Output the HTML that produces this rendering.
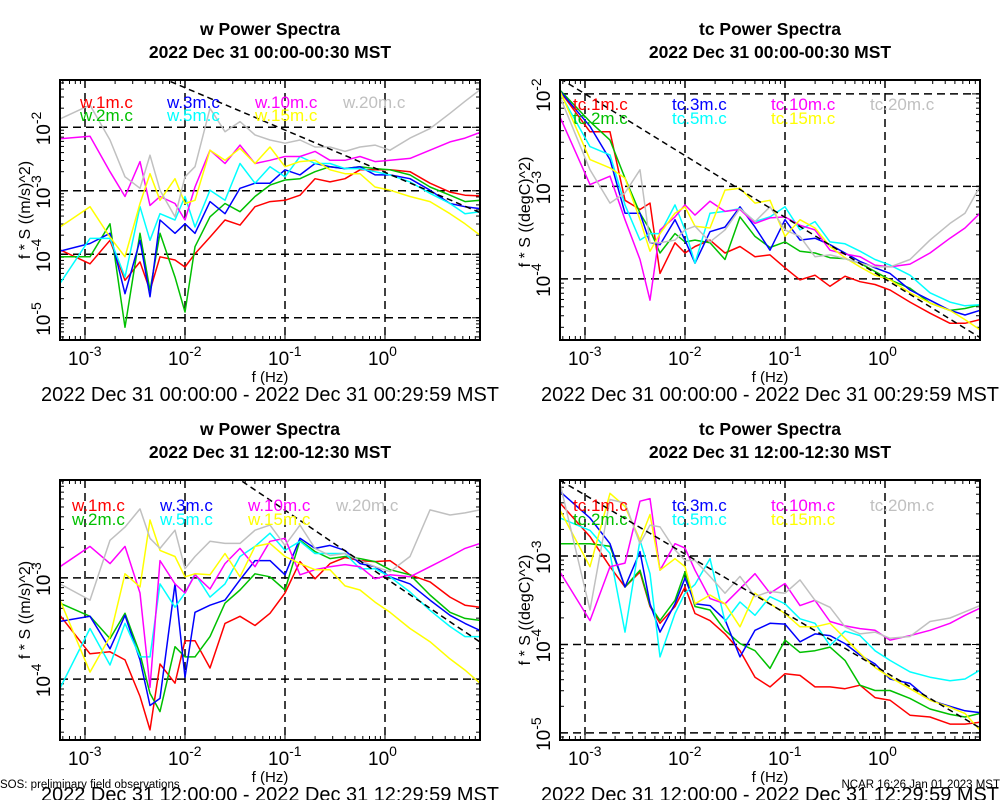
<!DOCTYPE html>
<html><head><meta charset="utf-8"><style>
body{margin:0;background:#fff;}
svg{display:block;font-family:"Liberation Sans",Arial,sans-serif;}
</style></head><body>
<svg id="chart" width="1000" height="800" viewBox="0 0 1000 800" xmlns="http://www.w3.org/2000/svg">
<rect width="1000" height="800" fill="#fff"/>
</svg>
<script>
// frequencies as log10(Hz)
const freqExp = [-3.25,-2.95,-2.75,-2.6,-2.45,-2.35,-2.25,-2.1,-2.0,-1.9,-1.75,-1.6,-1.45,-1.3,-1.15,-1.0,-0.85,-0.7,-0.55,-0.4,-0.25,-0.1,0.05,0.25,0.45,0.65,0.8,0.95];
const seriesNamesW = ["w.1m.c","w.2m.c","w.3m.c","w.5m.c","w.10m.c","w.15m.c","w.20m.c"];
const seriesNamesTc = ["tc.1m.c","tc.2m.c","tc.3m.c","tc.5m.c","tc.10m.c","tc.15m.c","tc.20m.c"];
const seriesColors = ["#ff0000","#00c000","#0000ff","#00ffff","#ff00ff","#ffff00","#c0c0c0"];
// panel 1: w 00:00 (log10 of f*S)
const p1_1m = [-3.93,-4.15,-3.78,-4.41,-4.12,-4.57,-4.04,-4.09,-4.2,-3.99,-3.73,-3.46,-3.54,-3.25,-3.17,-3.15,-3.07,-2.81,-2.86,-2.81,-2.67,-2.67,-2.67,-2.7,-2.88,-3.02,-3.07,-3.08];
const p1_2m = [-4.04,-4.04,-3.52,-5.15,-3.67,-4.57,-3.67,-4.36,-4.91,-3.88,-3.41,-3.2,-3.33,-3.09,-2.91,-2.83,-2.81,-2.7,-2.62,-2.65,-2.62,-2.65,-2.67,-2.75,-2.94,-3.07,-3.17,-3.15];
const p1_3m = [-3.95,-3.83,-3.67,-4.62,-3.78,-4.67,-3.46,-3.67,-3.52,-3.67,-3.17,-3.36,-2.96,-2.88,-2.88,-2.67,-2.75,-2.57,-2.62,-2.65,-2.62,-2.75,-2.75,-2.81,-2.99,-3.2,-3.25,-3.28];
const p1_5m = [-4.46,-3.75,-3.75,-4.36,-3.25,-3.78,-3.36,-3.46,-3.09,-3.57,-2.99,-3.15,-2.57,-2.88,-2.62,-2.78,-2.46,-2.57,-2.57,-2.65,-2.65,-2.7,-2.75,-2.86,-3.04,-3.2,-3.36,-3.33];
const p1_10m = [-2.18,-2.14,-2.7,-3.09,-2.54,-3.23,-3.09,-3.2,-3.46,-2.94,-2.36,-2.57,-2.28,-2.57,-2.52,-2.46,-2.46,-2.38,-2.52,-2.52,-2.46,-2.54,-2.52,-2.49,-2.36,-2.23,-2.17,-2.08];
const p1_15m = [-3.57,-3.25,-3.73,-4.04,-3.2,-2.73,-3.15,-2.81,-3.2,-3.15,-2.36,-2.52,-2.33,-2.57,-2.31,-2.62,-2.54,-2.52,-2.67,-2.73,-2.73,-2.94,-2.99,-3.09,-3.17,-3.36,-3.52,-3.7];
const p1_20m = [-1.87,-1.65,-2.2,-2.78,-2.96,-2.44,-2.99,-3.41,-2.78,-2.62,-1.7,-2.07,-1.91,-2.12,-2.2,-2.25,-2.2,-2.31,-2.31,-2.38,-2.31,-2.28,-2.36,-2.17,-2.02,-1.78,-1.59,-1.41];
// panel 2: tc 00:00
const p2_1m = [-1.97,-2.41,-2.41,-3.15,-3.25,-3.18,-3.94,-3.61,-3.72,-3.65,-3.58,-3.72,-3.65,-3.76,-3.74,-3.88,-4.01,-3.96,-4.08,-3.97,-4.03,-4.06,-4.12,-4.25,-4.37,-4.48,-4.48,-4.44];
const p2_2m = [-1.96,-2.3,-2.5,-2.91,-3.29,-3.47,-3.72,-3.51,-3.6,-3.58,-3.61,-3.79,-3.33,-3.54,-3.66,-3.6,-3.7,-3.72,-3.77,-3.78,-3.83,-3.92,-4.01,-4.1,-4.26,-4.34,-4.32,-4.28];
const p2_3m = [-1.97,-2.35,-2.71,-3.29,-3.29,-3.61,-3.63,-3.36,-3.58,-3.83,-3.49,-3.44,-3.22,-3.44,-3.69,-3.36,-3.58,-3.56,-3.63,-3.72,-3.81,-3.88,-3.94,-4.12,-4.23,-4.34,-4.39,-4.34];
const p2_5m = [-1.99,-2.57,-2.66,-3.2,-3.58,-3.51,-3.51,-3.2,-3.47,-3.83,-3.29,-3.27,-3.24,-3.38,-3.33,-3.22,-3.47,-3.38,-3.6,-3.62,-3.7,-3.79,-3.85,-3.96,-4.15,-4.25,-4.29,-4.28];
const p2_10m = [-2.25,-2.98,-2.89,-3.36,-3.79,-4.23,-3.47,-3.33,-3.2,-3.31,-3.16,-3.27,-3.25,-3.4,-3.34,-3.33,-3.42,-3.47,-3.69,-3.73,-3.76,-3.85,-3.87,-3.84,-3.72,-3.56,-3.45,-3.29];
const p2_15m = [-1.97,-2.71,-2.8,-2.91,-3.36,-3.7,-3.51,-3.29,-3.22,-3.43,-3.45,-3.04,-3.02,-3.18,-3.15,-3.54,-3.36,-3.45,-3.65,-3.77,-3.87,-3.96,-4.01,-4.15,-4.26,-4.34,-4.44,-4.55];
const p2_20m = [-2.03,-2.82,-3.18,-3.07,-2.82,-3.61,-3.61,-3.58,-3.47,-3.43,-3.6,-3.47,-3.24,-3.38,-3.22,-3.47,-3.54,-3.76,-3.74,-3.78,-3.83,-3.87,-3.87,-3.79,-3.58,-3.4,-3.29,-3.0];
// panel 3: w 12:00
const p3_1m = [-3.37,-3.75,-3.73,-3.81,-4.17,-4.5,-3.85,-4.04,-3.62,-3.62,-3.89,-3.45,-3.38,-3.47,-3.35,-3.15,-2.84,-3.01,-2.86,-2.8,-2.83,-2.84,-2.83,-2.97,-3.04,-3.19,-3.27,-3.29];
const p3_2m = [-3.25,-3.38,-3.6,-3.35,-3.75,-4.14,-4.32,-3.68,-3.78,-3.78,-3.58,-3.25,-3.12,-2.96,-2.99,-3.12,-2.63,-2.74,-2.81,-2.79,-2.81,-2.84,-2.92,-2.97,-3.17,-3.34,-3.4,-3.42];
const p3_3m = [-3.43,-3.38,-3.7,-3.37,-3.81,-4.26,-4.19,-3.06,-3.98,-3.34,-3.27,-3.22,-3.02,-2.83,-2.83,-2.97,-2.61,-2.71,-2.68,-2.73,-2.86,-2.89,-2.99,-3.06,-3.22,-3.37,-3.45,-3.52];
const p3_5m = [-4.09,-3.5,-3.86,-3.45,-3.78,-3.78,-3.06,-3.29,-3.15,-2.96,-3.19,-3.06,-2.79,-2.69,-2.56,-2.73,-2.64,-2.76,-2.76,-2.76,-2.91,-2.91,-2.99,-3.14,-3.32,-3.48,-3.58,-3.58];
const p3_10m = [-2.89,-2.69,-2.86,-2.69,-3.15,-4.08,-2.83,-3.06,-3.15,-2.97,-3.11,-2.86,-2.71,-2.89,-2.64,-2.61,-2.97,-2.92,-2.89,-2.87,-2.89,-3.01,-2.97,-2.99,-2.89,-2.79,-2.71,-2.66];
const p3_15m = [-3.22,-3.93,-3.58,-2.96,-3.09,-2.43,-2.73,-2.79,-2.99,-2.96,-2.97,-2.76,-2.99,-2.69,-2.66,-2.79,-2.86,-2.92,-2.92,-3.08,-3.12,-3.24,-3.34,-3.5,-3.63,-3.8,-3.91,-4.04];
const p3_20m = [-3.06,-3.22,-2.63,-2.5,-2.32,-2.61,-2.71,-2.53,-2.91,-2.79,-2.64,-2.66,-2.66,-2.53,-2.48,-2.68,-2.48,-2.71,-2.78,-2.76,-2.83,-2.89,-2.94,-2.79,-2.33,-2.38,-2.36,-2.33];
// panel 4: tc 12:00
const p4_1m = [-2.4,-2.78,-3.12,-3.35,-3.18,-3.57,-3.76,-3.57,-3.35,-3.65,-3.73,-3.88,-4.07,-4.37,-4.48,-4.33,-4.35,-4.48,-4.48,-4.5,-4.46,-4.6,-4.63,-4.8,-4.82,-4.9,-4.9,-4.88];
const p4_2m = [-2.86,-2.86,-2.89,-3.35,-3.16,-3.56,-3.73,-3.5,-3.18,-3.57,-3.61,-3.84,-3.99,-4.07,-4.27,-3.95,-4.09,-4.07,-4.03,-4.18,-4.46,-4.52,-4.52,-4.61,-4.73,-4.79,-4.82,-4.78];
const p4_3m = [-2.27,-2.57,-2.86,-3.35,-2.95,-3.54,-3.86,-3.54,-3.25,-3.54,-3.56,-3.72,-4.14,-3.84,-3.76,-3.77,-3.97,-3.88,-3.9,-3.99,-4.12,-4.22,-4.39,-4.44,-4.63,-4.7,-4.75,-4.77];
const p4_5m = [-2.57,-2.71,-2.97,-3.86,-2.82,-3.2,-4.14,-3.65,-3.42,-3.32,-3.03,-3.74,-3.52,-3.67,-3.46,-3.54,-3.71,-3.76,-4.01,-3.85,-3.9,-4.07,-4.18,-4.31,-4.37,-4.41,-4.39,-4.29];
const p4_10m = [-3.18,-3.73,-3.12,-3.08,-2.38,-2.35,-3.16,-2.86,-2.91,-3.16,-3.48,-3.54,-3.37,-3.2,-3.42,-3.31,-3.56,-3.5,-3.74,-3.79,-3.82,-3.84,-3.95,-3.9,-3.84,-3.76,-3.67,-3.59];
const p4_15m = [-2.48,-3.12,-2.29,-2.44,-2.82,-2.53,-3.16,-3.03,-3.12,-3.54,-3.44,-3.54,-3.8,-3.42,-3.54,-3.65,-3.8,-3.8,-3.76,-3.93,-4.1,-4.26,-4.37,-4.5,-4.63,-4.71,-4.78,-4.97];
const p4_20m = [-2.18,-3.61,-2.36,-2.4,-2.86,-2.65,-2.67,-2.93,-3.05,-3.05,-3.23,-3.42,-3.23,-3.46,-3.4,-3.42,-3.27,-3.5,-3.58,-3.8,-3.88,-3.86,-3.93,-3.91,-3.74,-3.7,-3.63,-3.56];
// reference slope line: log10 value at 1 Hz, slope -2/3
const refAt1Hz = [-2.71,-4.0,-3.0,-4.31];
const refSlope = -2/3;
const xTickExp = [-3,-2,-1,0];
const titles1 = ["w Power Spectra","tc Power Spectra","w Power Spectra","tc Power Spectra"];
const titles2 = ["2022 Dec 31 00:00-00:30 MST","2022 Dec 31 00:00-00:30 MST","2022 Dec 31 12:00-12:30 MST","2022 Dec 31 12:00-12:30 MST"];
const subTitles = ["2022 Dec 31 00:00:00 - 2022 Dec 31 00:29:59 MST","2022 Dec 31 00:00:00 - 2022 Dec 31 00:29:59 MST","2022 Dec 31 12:00:00 - 2022 Dec 31 12:29:59 MST","2022 Dec 31 12:00:00 - 2022 Dec 31 12:29:59 MST"];
const yTitles = ["f * S ((m/s)^2)","f * S ((degC)^2)","f * S ((m/s)^2)","f * S ((degC)^2)"];

const NS="http://www.w3.org/2000/svg";
const svg=document.getElementById('chart');
function mk(tag,attrs,parent){const e=document.createElementNS(NS,tag);for(const k in attrs)e.setAttribute(k,attrs[k]);(parent||svg).appendChild(e);return e;}

const panels=[
 {x0:60,y0:80,ymax:-1.255,ymin:-5.35,data:[p1_1m,p1_2m,p1_3m,p1_5m,p1_10m,p1_15m,p1_20m],names:seriesNamesW,lx:[80,167,255,343],ly:[108,121],yt:210,id:"w-0000"},
 {x0:560,y0:80,ymax:-1.85,ymin:-4.66,data:[p2_1m,p2_2m,p2_3m,p2_5m,p2_10m,p2_15m,p2_20m],names:seriesNamesTc,lx:[573,672,771,870],ly:[110,124],yt:212,id:"tc-0000"},
 {x0:60,y0:480,ymax:-2.035,ymin:-4.60,data:[p3_1m,p3_2m,p3_3m,p3_5m,p3_10m,p3_15m,p3_20m],names:seriesNamesW,lx:[72,160,248,336],ly:[511,525],yt:610,id:"w-1200"},
 {x0:560,y0:480,ymax:-2.14,ymin:-5.08,data:[p4_1m,p4_2m,p4_3m,p4_5m,p4_10m,p4_15m,p4_20m],names:seriesNamesTc,lx:[573,672,771,870],ly:[511,525],yt:610,id:"tc-1200"}
];
const W=420,H=260,XMIN=-3.25,XMAX=0.95;

panels.forEach((p,pi)=>{
 const g=mk('g',{});
 
 
 const xs=lf=>p.x0+(lf-XMIN)/(XMAX-XMIN)*W;
 const ys=lv=>p.y0+(p.ymax-lv)/(p.ymax-p.ymin)*H;
 const cx=p.x0+W/2;
 const t1=mk('text',{x:cx,y:p.y0-45,'text-anchor':'middle','font-size':'17.5','font-weight':'bold'},g);t1.textContent=titles1[pi];
 
 
 const t2=mk('text',{x:cx,y:p.y0-22,'text-anchor':'middle','font-size':'17.5','font-weight':'bold'},g);t2.textContent=titles2[pi];
 
 
 const cid='clip'+pi;
 const cp=mk('clipPath',{id:cid},g);mk('rect',{x:p.x0,y:p.y0,width:W,height:H},cp);
 const grid=mk('g',{stroke:'#000','stroke-width':'1.5','stroke-dasharray':'8,5',fill:'none'},g);
 
 
 xTickExp.forEach(e=>{mk('line',{x1:xs(e),x2:xs(e),y1:p.y0,y2:p.y0+H},grid);});
 for(let e=Math.ceil(p.ymin);e<=Math.floor(p.ymax);e++){mk('line',{x1:p.x0,x2:p.x0+W,y1:ys(e),y2:ys(e)},grid);}
 const tk=mk('g',{stroke:'#000','stroke-width':'1'},g);
 for(let e=Math.floor(p.ymin);e<=Math.ceil(p.ymax);e++){for(let k=1;k<10;k++){const v=e+Math.log10(k);if(v<p.ymin||v>p.ymax)continue;const y=ys(v);const L=k==1?8:4;mk('line',{x1:p.x0,x2:p.x0+L,y1:y,y2:y},tk);mk('line',{x1:p.x0+W-L,x2:p.x0+W,y1:y,y2:y},tk);}}
 for(let e=-4;e<=1;e++){for(let k=1;k<10;k++){const v=e+Math.log10(k);if(v<XMIN||v>XMAX)continue;const x=xs(v);const L=k==1?8:4;mk('line',{x1:x,x2:x,y1:p.y0+H-L,y2:p.y0+H},tk);mk('line',{x1:x,x2:x,y1:p.y0,y2:p.y0+L},tk);}}
 const sg=mk('g',{'clip-path':'url(#'+cid+')',fill:'none','stroke-width':'1.5','stroke-linejoin':'round'},g);
 p.data.forEach((arr,si)=>{
  const d=arr.map((v,i)=>(i?'L':'M')+xs(freqExp[i]).toFixed(1)+','+ys(v).toFixed(1)).join('');
  const path=mk('path',{d:d,stroke:seriesColors[si]},sg);
  
  
 });
 const ref=mk('line',{x1:xs(XMIN),y1:ys(refAt1Hz[pi]+refSlope*XMIN),x2:xs(XMAX),y2:ys(refAt1Hz[pi]+refSlope*XMAX),stroke:'#000','stroke-width':'1.5','stroke-dasharray':'6,4'},sg);
 
 
 const fr=mk('rect',{x:p.x0,y:p.y0,width:W,height:H,fill:'none',stroke:'#000','stroke-width':'2'},g);
 
 
 p.names.forEach((n,si)=>{
  const col=si<2?0:si<4?1:si<6?2:3;const row=si==6?0:si%2;
  const lt=mk('text',{x:p.lx[col],y:p.ly[row],'font-size':'17',fill:seriesColors[si]},g);lt.textContent=n;
  
  
 });
 xTickExp.forEach(e=>{
  const t=mk('text',{x:xs(e)-17,y:p.y0+H+25,'font-size':'19'},g);
  
  
  const a=mk('tspan',{},t);a.textContent='10';
  const b=mk('tspan',{dy:'-9','font-size':'14'},t);b.textContent=String(e);
 });
 for(let e=Math.ceil(p.ymin);e<=Math.floor(p.ymax);e++){
  const y=ys(e);
  const t=mk('text',{transform:'translate('+(p.x0-10)+','+(y+18)+') rotate(-90)','font-size':'19'},g);
  
  
  const a=mk('tspan',{},t);a.textContent='10';
  const b=mk('tspan',{dy:'-9','font-size':'14'},t);b.textContent=String(e);
 }
 const xt=mk('text',{x:cx,y:p.y0+H+42,'text-anchor':'middle','font-size':'15'},g);xt.textContent='f (Hz)';
 
 
 const yt=mk('text',{transform:'translate('+(p.x0-30)+','+p.yt+') rotate(-90)','text-anchor':'middle','font-size':'16'},g);yt.textContent=yTitles[pi];
 
 
 const st=mk('text',{x:cx,y:p.y0+H+61,'text-anchor':'middle','font-size':'20','textLength':'458','lengthAdjust':'spacingAndGlyphs'},g);st.textContent=subTitles[pi];
 
 
});
const f1=mk('text',{x:0,y:788,'font-size':'11.5'});f1.textContent='SOS: preliminary field observations';


const f2=mk('text',{x:1000,y:788,'font-size':'11.5','text-anchor':'end'});f2.textContent='NCAR 16:26 Jan 01 2023 MST';


</script>
</body></html>
